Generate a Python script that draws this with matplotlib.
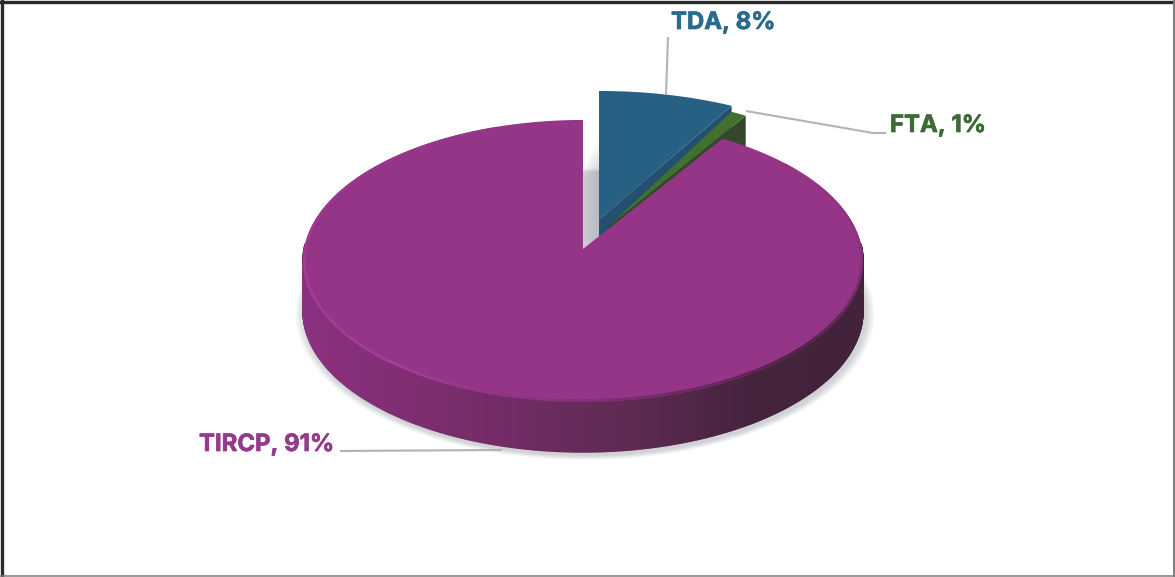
import numpy as np
import matplotlib
matplotlib.use("Agg")
import matplotlib.pyplot as plt
import matplotlib.patheffects as pe
from matplotlib.collections import LineCollection, PolyCollection
from matplotlib.colors import LinearSegmentedColormap
from matplotlib.patches import Polygon

# pie data
labels = ["TDA", "FTA", "TIRCP"]
shares = [8, 1, 91]
top_colors = ["#266082", "#42702f", "#953588"]
cut_colors = ["#24506f", "#33482b", "#5c2a50"]
text_colors = ["#2a6a8c", "#3c6b35", "#963a8c"]

W, H = 1175, 577
RX, RY, PERSP = 279.0, 140.0, 0.085  # tilted disc
DEPTH = 50.0
# apex of each slice on the canvas, and its sideways stretch
apex = [(599, 220), (609, 226), (583, 249)]
stretch = [1.06, 0.98, 1.0]

side_cmap = LinearSegmentedColormap.from_list(
    "side", ["#8b3080", "#7f2d72", "#6e2c62", "#5c2a50", "#45233d", "#43223b"])
rim_cmap = LinearSegmentedColormap.from_list(
    "rim", ["#953588", "#8a3080", "#4a2342", "#7c2d70", "#a63d98", "#a63d98", "#9a3790", "#953588"])


# angle is clockwise from the back of the disc
def project(center, theta, xs=1.0):
    u, v = np.sin(theta), np.cos(theta)
    d = 1 + PERSP * v
    return center[0] + xs * RX * u / d, center[1] - RY * v / d


def arc(center, start, stop, n=240, xs=1.0):
    x, y = project(center, np.linspace(start, stop, n), xs)
    return np.column_stack([x, y])


def draw_slice(ax, center, start, stop, top, cut, z, xs):
    rim = arc(center, start, stop, xs=xs)
    a = np.array(center, dtype=float)
    t = rim[-1]
    drop = np.array([0, DEPTH])
    ax.add_patch(Polygon([a, t, t + drop, a + drop], fc=cut, ec="none", zorder=z))
    ax.add_patch(Polygon(np.vstack([a, rim]), fc=top, ec="none", zorder=z + 1))


fig = plt.figure(figsize=(W / 100, H / 100), dpi=100)
ax = fig.add_axes([0, 0, 1, 1])
ax.set_xlim(0, W)
ax.set_ylim(H, 0)
ax.axis("off")

fracs = np.array(shares) / sum(shares)
ends = np.cumsum(fracs) * 2 * np.pi
starts = ends - fracs * 2 * np.pi

# soft shadow of the detached slices in the gap
gap = np.vstack([apex[0], arc(apex[0], starts[0], ends[0], xs=stretch[0])])
for i in range(12):
    ax.add_patch(Polygon(gap + [-3 - i * 1.3, 50 + i * 2.6], fc="#8f949c", ec="none",
                         alpha=0.028, zorder=1))

draw_slice(ax, apex[0], starts[0], ends[0], top_colors[0], cut_colors[0], 3, stretch[0])
draw_slice(ax, apex[1], starts[1], ends[1], top_colors[1], cut_colors[1], 5, stretch[1])

# TIRCP body: shadow, side wall, bevel, top
big = arc(apex[2], starts[2], ends[2], 720)
floor = arc(apex[2], 0, 2 * np.pi, 720) + [0, DEPTH]
mid = floor.mean(axis=0)
for i in range(12):
    s = 1 + 0.0028 * (12 - i)
    ax.add_patch(Polygon(mid + (floor - mid) * s + [2, 3], fc="#8f949c", ec="none",
                         alpha=0.04, zorder=1))

wall_a = np.deg2rad(np.linspace(88, 272, 369))
wx, wy = project(apex[2], wall_a)
quads = []
for i in range(len(wall_a) - 1):
    quads.append([(wx[i], wy[i]), (wx[i + 1], wy[i + 1]),
                  (wx[i + 1], wy[i + 1] + DEPTH), (wx[i], wy[i] + DEPTH)])
# colour runs from the left (light) to the right (dark)
quad_colors = [side_cmap((0.5 * (wx[i] + wx[i + 1]) - wx.min()) / (wx.max() - wx.min()))
               for i in range(len(quads))]
ax.add_collection(PolyCollection(quads, facecolors=quad_colors, edgecolors=quad_colors,
                                 linewidths=1.0, zorder=7))

ax.add_patch(Polygon(np.vstack([apex[2], big]), fc=top_colors[2], ec="none", zorder=8))

# bevel along the front of the top face, kept just inside the edge
rim_a = np.deg2rad(np.linspace(50, 340, 291))
rx, ry = project(apex[2], rim_a)
rx = apex[2][0] + (rx - apex[2][0]) * 0.995
ry = apex[2][1] + (ry - apex[2][1]) * 0.99
segs = [[(rx[i], ry[i]), (rx[i + 1], ry[i + 1])] for i in range(len(rim_a) - 1)]
rim_colors = [rim_cmap(i / (len(segs) - 1)) for i in range(len(segs))]
ax.add_collection(LineCollection(segs, colors=rim_colors, linewidths=1.8, zorder=9))

# leader lines
line_kw = dict(color="#b3b3b5", lw=1.5, zorder=10, solid_capstyle="butt")
ax.plot([668, 666], [37, 95], **line_kw)
ax.plot([746, 873, 886], [111, 133, 133], **line_kw)
ax.plot([340, 502], [451, 450], **line_kw)

# data labels
label_pos = [(671, 23, "left"), (890, 126, "left"), (334, 445, "right")]
for name, share, col, (lx, ly, ha) in zip(labels, shares, text_colors, label_pos):
    t = ax.text(lx, ly, f"{name}, {share}%", color=col, ha=ha, va="center",
                fontfamily="Inter", fontweight="bold", fontsize=17.2, zorder=11)
    t.set_path_effects([pe.withStroke(linewidth=0.5, foreground=col)])

# image frame
ax.plot([0, W], [1.5, 1.5], color="#2b2b2b", lw=2.4, zorder=12)
ax.plot([1.5, 1.5], [0, H], color="#2b2b2b", lw=2.4, zorder=12)
ax.plot([0, W], [576.3, 576.3], color="#7d7d7d", lw=1.1, zorder=12)
ax.plot([1174, 1174], [0, H], color="#7d7d7d", lw=1.4, zorder=12)

fig.savefig("out.png", dpi=100, facecolor="white")
